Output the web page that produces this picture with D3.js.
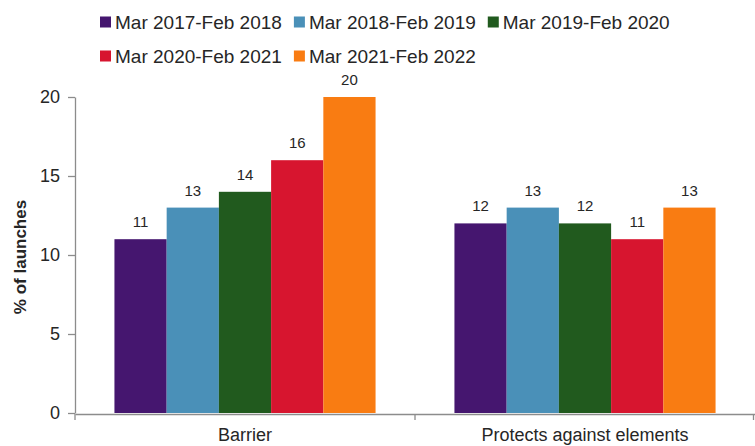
<!DOCTYPE html>
<html>
<head>
<meta charset="utf-8">
<script src="https://cdn.jsdelivr.net/npm/d3@7"></script>
<style>
  html, body { margin: 0; padding: 0; background: #fff; }
  svg { display: block; font-family: "Liberation Sans", Arial, sans-serif; }
</style>
</head>
<body>
<svg id="chart" width="755" height="446"></svg>
<script>
const categories = ["Barrier", "Protects against elements"];
const seriesNames = ["Mar 2017-Feb 2018", "Mar 2018-Feb 2019", "Mar 2019-Feb 2020", "Mar 2020-Feb 2021", "Mar 2021-Feb 2022"];
const seriesColors = ["#45166f", "#4a90b8", "#215a1e", "#d7152f", "#f97c12"];
const values2017 = [11, 12];
const values2018 = [13, 13];
const values2019 = [14, 12];
const values2020 = [16, 11];
const values2021 = [20, 13];
const yTicks = [0, 5, 10, 15, 20];
const yLabel = "% of launches";

const seriesValues = [values2017, values2018, values2019, values2020, values2021];

(function () {
const svg = d3.select("#chart");
const W = 755, H = 446;
const mLeft = 75, mRight = 755, mTop = 97, mBottom = 413;
const textColor = "#262626";
const axisColor = "#8c8c8c";

const x0 = d3.scaleBand().domain(categories).range([mLeft, mRight]).paddingInner(0).paddingOuter(0);
const groupWidth = x0.bandwidth() * 0.768;
const x1 = d3.scaleBand().domain(seriesNames).range([0, groupWidth]).padding(0);
const y = d3.scaleLinear().domain([0, 20]).range([mBottom, mTop]);

// bars
const groups = svg.append("g").selectAll("g")
  .data(categories)
  .join("g")
  .attr("transform", c => `translate(${x0(c) + (x0.bandwidth() - groupWidth) / 2},0)`);

groups.selectAll("rect")
  .data((c, ci) => seriesNames.map((s, si) => ({ s, si, v: seriesValues[si][ci] })))
  .join("rect")
  .attr("x", d => x1(d.s))
  .attr("width", x1.bandwidth())
  .attr("y", d => y(d.v))
  .attr("height", d => y(0) - y(d.v))
  .attr("fill", d => seriesColors[d.si]);

groups.selectAll("text.val")
  .data((c, ci) => seriesNames.map((s, si) => ({ s, si, v: seriesValues[si][ci] })))
  .join("text")
  .attr("class", "val")
  .attr("x", d => x1(d.s) + x1.bandwidth() / 2)
  .attr("y", d => y(d.v) - 12)
  .attr("text-anchor", "middle")
  .attr("font-size", 15)
  .attr("fill", textColor)
  .text(d => d.v);

// y axis
const yAxis = svg.append("g")
  .attr("transform", `translate(${mLeft},0)`)
  .call(d3.axisLeft(y).tickValues(yTicks).tickSize(7).tickPadding(8).tickSizeOuter(0));
yAxis.select(".domain").attr("stroke", axisColor).attr("stroke-width", 1.3);
yAxis.selectAll(".tick line").attr("stroke", axisColor).attr("stroke-width", 1.3);
yAxis.selectAll(".tick text").attr("font-size", 18).attr("fill", textColor).attr("font-family", "Liberation Sans, Arial, sans-serif");

// x axis
const xAxis = svg.append("g")
  .attr("transform", `translate(0,${mBottom + 1})`)
  .call(d3.axisBottom(x0).tickSize(0).tickPadding(14).tickSizeOuter(0));
xAxis.select(".domain").attr("stroke", axisColor).attr("stroke-width", 1.3);
xAxis.selectAll(".tick text").attr("font-size", 18).attr("fill", textColor).attr("font-family", "Liberation Sans, Arial, sans-serif");
const bounds = [mLeft, ...categories.map(c => x0(c) + x0.bandwidth())];
xAxis.selectAll("line.bound")
  .data(bounds)
  .join("line")
  .attr("class", "bound")
  .attr("x1", d => Math.min(d, W - 1.5)).attr("x2", d => Math.min(d, W - 1.5))
  .attr("y1", 0).attr("y2", 6)
  .attr("stroke", axisColor).attr("stroke-width", 1.3);

// y label
svg.append("text")
  .attr("transform", `translate(26,${(mTop + mBottom) / 2 + 2}) rotate(-90)`)
  .attr("text-anchor", "middle")
  .attr("font-size", 17)
  .attr("font-weight", "bold")
  .attr("fill", textColor)
  .text(yLabel);

// legend
const rows = [[0, 1, 2], [3, 4]];
const rowY = [22, 56];
rows.forEach((row, ri) => {
  let cx = 100;
  row.forEach(si => {
    svg.append("rect")
      .attr("x", cx).attr("y", rowY[ri] - 5.5)
      .attr("width", 11).attr("height", 11)
      .attr("fill", seriesColors[si]);
    const t = svg.append("text")
      .attr("x", cx + 15).attr("y", rowY[ri])
      .attr("dy", "0.36em")
      .attr("font-size", 19)
      .attr("fill", textColor)
      .text(seriesNames[si]);
    const w = t.node().getComputedTextLength();
    cx = cx + 15 + w + 12;
  });
});
})();
</script>
</body>
</html>
